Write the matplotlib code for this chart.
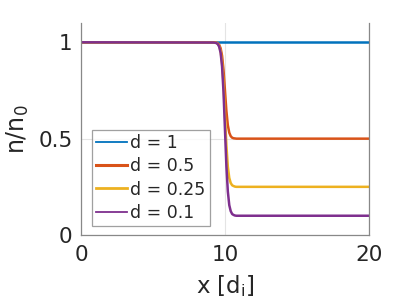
import matplotlib
matplotlib.use("Agg")
import matplotlib.pyplot as plt

x_vals = [0, 9.2, 9.3, 9.4, 9.5, 9.6, 9.7, 9.8, 9.9, 10.0, 10.1, 10.2, 10.3,
          10.4, 10.5, 10.6, 10.7, 10.8, 20]
n_d1 = [1.0] * 19
n_d05 = [1.0, 1.0, 0.999, 0.998, 0.995, 0.987, 0.969, 0.930, 0.856, 0.750,
         0.644, 0.570, 0.531, 0.513, 0.505, 0.502, 0.501, 0.500, 0.500]
n_d025 = [1.0, 1.0, 0.999, 0.997, 0.992, 0.981, 0.954, 0.895, 0.785, 0.625,
          0.465, 0.355, 0.296, 0.270, 0.258, 0.254, 0.251, 0.250, 0.250]
n_d01 = [1.0, 0.999, 0.998, 0.996, 0.991, 0.977, 0.945, 0.874, 0.742, 0.550,
         0.358, 0.226, 0.155, 0.124, 0.109, 0.104, 0.101, 0.100, 0.100]
labels = ["d = 1", "d = 0.5", "d = 0.25", "d = 0.1"]
colors = ["#0072BD", "#D95319", "#EDB120", "#7E2F8E"]
leg_widths = [1.3, 2.2, 2.0, 1.3]

plt.rcParams['font.family'] = ['DejaVu Sans']
fig = plt.figure(figsize=(4.09, 3.07), dpi=100)
ax = fig.add_axes([0.198, 0.2345, 0.704, 0.6905])

for y, lab, c in zip([n_d1, n_d05, n_d025, n_d01], labels, colors):
    ax.plot(x_vals, y, color=c, lw=1.8, label=lab)

ax.set_xlim(0, 20)
ax.set_ylim(0, 1.1)
ax.set_xticks([0, 10, 20])
ax.set_yticks([0, 0.5, 1])
ax.set_xticklabels(["0", "10", "20"])
ax.set_yticklabels(["0", "0.5", "1"])
ax.grid(True, color="#e4e4e4", lw=0.8)
ax.set_axisbelow(True)
for s in ["left", "bottom", "right"]:
    ax.spines[s].set_color("#888888")
    ax.spines[s].set_linewidth(0.9)
ax.spines["top"].set_visible(False)
ax.tick_params(length=0, labelsize=15.5, colors="#262626")
ax.tick_params(axis="x", pad=7)
ax.tick_params(axis="y", pad=6)
ax.set_xlabel("x [d$_\\mathregular{i}$]", fontsize=16.5, color="#262626", labelpad=6)
ax.set_ylabel("n/n$_\\mathregular{0}$", fontsize=17, color="#262626", labelpad=5)

leg = ax.legend(loc="lower left", bbox_to_anchor=(0.038, 0.042), fontsize=12.5,
                frameon=True, fancybox=False, handlelength=1.75, handletextpad=0.2,
                borderpad=0.25, labelspacing=0.3, borderaxespad=0)
leg.get_frame().set_edgecolor("#888888")
leg.get_frame().set_linewidth(0.9)
for t in leg.get_texts():
    t.set_color("#262626")
for h, w in zip(leg.get_lines(), leg_widths):
    h.set_linewidth(w)

fig.savefig("out.png", dpi=100)
